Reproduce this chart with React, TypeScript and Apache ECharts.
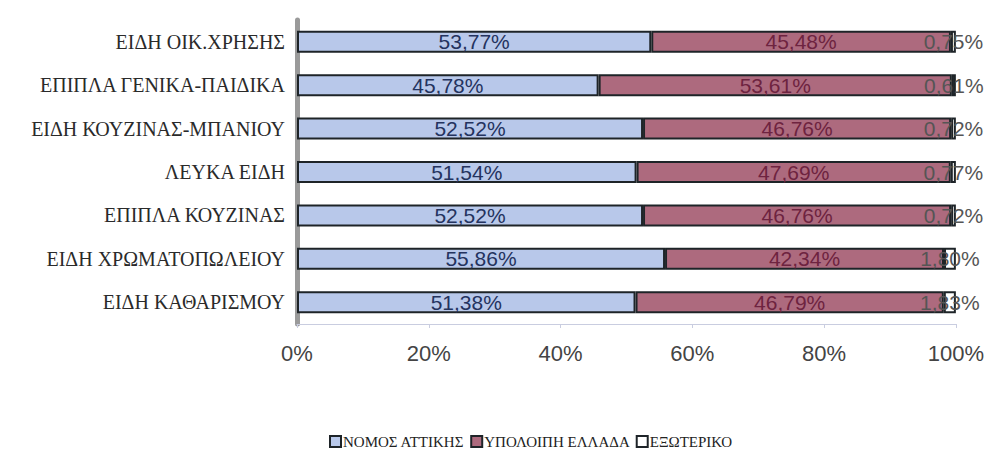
import React, { useEffect, useRef } from "react";
import * as echarts from "echarts";

const categories = [
  "ΕΙΔΗ ΟΙΚ.ΧΡΗΣΗΣ",
  "ΕΠΙΠΛΑ ΓΕΝΙΚΑ-ΠΑΙΔΙΚΑ",
  "ΕΙΔΗ ΚΟΥΖΙΝΑΣ-ΜΠΑΝΙΟΥ",
  "ΛΕΥΚΑ ΕΙΔΗ",
  "ΕΠΙΠΛΑ ΚΟΥΖΙΝΑΣ",
  "ΕΙΔΗ ΧΡΩΜΑΤΟΠΩΛΕΙΟΥ",
  "ΕΙΔΗ ΚΑΘΑΡΙΣΜΟΥ",
];
const attiki = [53.77, 45.78, 52.52, 51.54, 52.52, 55.86, 51.38];
const restGreece = [45.48, 53.61, 46.76, 47.69, 46.76, 42.34, 46.79];
const abroad = [0.75, 0.61, 0.72, 0.77, 0.72, 1.8, 1.83];
const seriesNames = ["ΝΟΜΟΣ ΑΤΤΙΚΗΣ", "ΥΠΟΛΟΙΠΗ ΕΛΛΑΔΑ", "ΕΞΩΤΕΡΙΚΟ"];
const xTicks = [0, 20, 40, 60, 80, 100];

const fmt = (v: number) => v.toFixed(2).replace(".", ",") + "%";
const SERIF = "'Liberation Serif', 'Times New Roman', serif";
const SANS = "'Liberation Sans', Arial, sans-serif";

export default function App() {
  const ref = useRef<HTMLDivElement>(null);
  useEffect(() => {
    if (!ref.current) return;
    const chart = echarts.init(ref.current, null, { renderer: "svg" });
    const mk = (name: string, data: number[], fill: string, txt: string) => ({
      name,
      type: "bar",
      stack: "total",
      data,
      barWidth: 22,
      itemStyle: { color: fill, borderColor: "#1e2428", borderWidth: 2 },
      label: {
        show: true,
        position: "inside",
        formatter: (p: any) => fmt(p.value),
        color: txt,
        fontFamily: SANS,
        fontSize: 21,
      },
    });
    chart.setOption({
      animation: false,
      backgroundColor: "#ffffff",
      grid: { left: 289, right: 21, top: 12, bottom: 136, containLabel: false },
      legend: {
        bottom: 6,
        left: 316,
        icon: "rect",
        itemWidth: 11,
        itemHeight: 11,
        itemGap: 6,
        textStyle: {
          fontFamily: SERIF,
          fontSize: 15,
          color: "#222",
          padding: [0, 0, 0, -3],
        },
        data: seriesNames,
      },
      xAxis: {
        type: "value",
        min: xTicks[0],
        max: xTicks[xTicks.length - 1],
        interval: 20,
        axisLine: { show: true, lineStyle: { color: "#c9cde0", width: 1 } },
        axisTick: { show: true, length: 4, lineStyle: { color: "#c9cde0" } },
        splitLine: { show: false },
        axisLabel: {
          formatter: "{value}%",
          margin: 18,
          fontFamily: SANS,
          fontSize: 22,
          color: "#444",
        },
      },
      yAxis: {
        type: "category",
        inverse: true,
        data: categories,
        axisLine: { show: true, lineStyle: { color: "#9a9a9a", width: 5 } },
        axisTick: { show: false },
        axisLabel: {
          margin: 12,
          fontFamily: SERIF,
          fontSize: 20,
          color: "#2a2a2a",
        },
      },
      series: [
        mk(seriesNames[0], attiki, "#b8c8ea", "#24335f"),
        mk(seriesNames[1], restGreece, "#ad6a7e", "#6e2340"),
        mk(seriesNames[2], abroad, "#ffffff", "#555"),
      ],
    });
    return () => chart.dispose();
  }, []);
  return <div ref={ref} style={{ width: 979, height: 452 }} />;
}
